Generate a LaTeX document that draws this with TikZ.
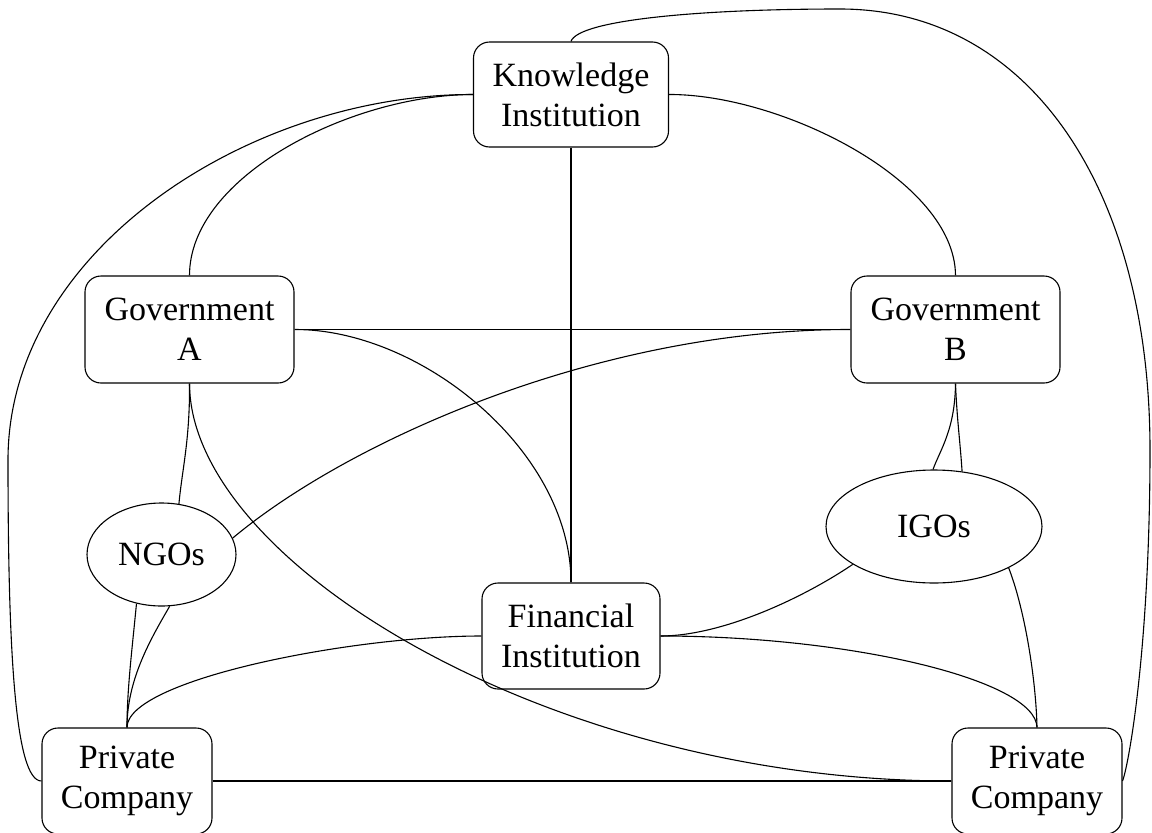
\documentclass[tikz,border=0pt]{standalone}
\usepackage{fontspec}
\setmainfont{Liberation Serif}
\usetikzlibrary{shapes.geometric}
\begin{document}
\begin{tikzpicture}[x=1pt,y=-1pt,
  box/.style={draw, rounded corners=16pt, line width=1.1pt, align=center, inner sep=0pt, font=\fontsize{34}{40}\selectfont},
  oval/.style={draw, ellipse, line width=1.1pt, inner sep=0pt, font=\fontsize{34}{40}\selectfont},
  link/.style={line width=1.1pt}]
\useasboundingbox (0,0) rectangle (1152,833);
% nodes
\node[box, minimum width=195pt, minimum height=105pt] (KI) at (571,94.5) {Knowledge\\Institution};
\node[box, minimum width=209pt, minimum height=107pt] (GA) at (189.5,329.5) {Government\\A};
\node[box, minimum width=209pt, minimum height=107pt] (GB) at (955.5,329.5) {Government\\B};
\node[oval, minimum width=149pt, minimum height=103pt] (NGOs) at (161.5,554.5) {NGOs};
\node[oval, minimum width=216pt, minimum height=113pt] (IGOs) at (934,526.5) {IGOs};
\node[box, minimum width=178pt, minimum height=106pt] (FI) at (571,636) {Financial\\Institution};
\node[box, minimum width=170pt, minimum height=106pt] (PCL) at (127,781) {Private\\Company};
\node[box, minimum width=170pt, minimum height=106pt] (PCR) at (1037,781) {Private\\Company};
% waypoints
\coordinate (lw) at (8,460);
\coordinate (tr) at (840,9);
\coordinate (rr) at (1150,450);
% connectors
\draw[link] (KI.west) .. controls +(-120,0) and +(0,-100) .. (GA.north);
\draw[link] (KI.west) .. controls (250,94) and (8,250) .. (lw) .. controls (8,650) and (15,781) .. (PCL.west);
\draw[link] (KI.east) .. controls (780,94) and (955,180) .. (GB.north);
\draw[link] (KI.south) -- (FI.north);
\draw[link] (KI.north) .. controls (578,20) and (700,9) .. (tr) .. controls (1030,9) and (1150,190) .. (rr) .. controls (1150,640) and (1130,760) .. (PCR.east);
\draw[link] (GA.east) -- (GB.west);
\draw[link] (GA.east) .. controls (420,329) and (571,450) .. (FI.north);
\draw[link] (GB.west) .. controls (600,329) and (350,440) .. (NGOs.13);
\draw[link] (GA.south) .. controls (190,440) and (182,470) .. (NGOs.71);
\draw[link] (GA.south) .. controls (190,563) and (552,781) .. (PCR.west);
\draw[link] (GB.south) .. controls (955,430) and (940,450) .. (IGOs.91);
\draw[link] (GB.south) .. controls (957,420) and (960,440) .. (IGOs.63);
\draw[link] (NGOs.243) .. controls (132,650) and (127,690) .. (PCL.north);
\draw[link] (NGOs.279) .. controls (150,640) and (127,680) .. (PCL.north);
\draw[link] (FI.west) .. controls (350,636) and (127,680) .. (PCL.north);
\draw[link] (FI.east) .. controls (720,636) and (800,600) .. (IGOs.205);
\draw[link] (FI.east) .. controls (850,636) and (1036,680) .. (PCR.north);
\draw[link] (IGOs.331) .. controls (1025,610) and (1036,680) .. (PCR.north);
\draw[link] (PCL.east) -- (PCR.west);
\end{tikzpicture}
\end{document}
